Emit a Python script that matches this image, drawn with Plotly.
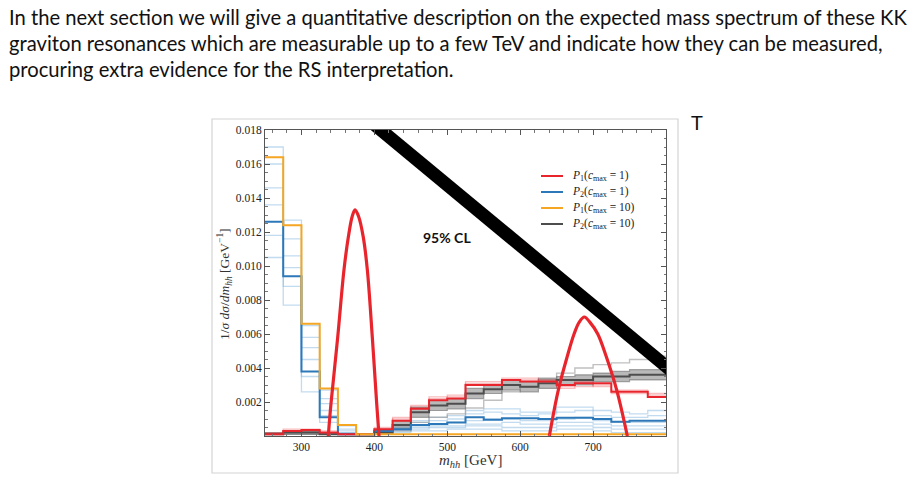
import plotly.graph_objects as go

# ---------------- data ----------------
bin_edges = [250, 275, 300, 325, 350, 375, 400, 425, 450, 475, 500, 525,
             550, 575, 600, 625, 650, 675, 700, 725, 750, 775, 800]

p1_c1 = [0.0001, 0.0003, 0.00035, 0.0002, 0.0001, 0.0001, 0.0004, 0.0009, 0.0016, 0.0021, 0.0022,
         0.0030, 0.0030, 0.0033, 0.0032, 0.0032, 0.0030, 0.0031, 0.0031, 0.0026, 0.0026, 0.0023]
p2_c1 = [0.0126, 0.0094, 0.0038, 0.0011, 0.0001, 0.0001, 0.0003, 0.0004, 0.00065, 0.0007, 0.0008,
         0.0011, 0.00095, 0.00105, 0.00104, 0.0010, 0.00107, 0.00107, 0.0010, 0.00084, 0.0009, 0.0009]
p1_c10 = [0.0164, 0.0124, 0.0066, 0.0028, 0.00065, 0.0001, 0.0001, 0.0001, 0.0001, 0.0001, 0.0001,
          0.0001, 0.0001, 0.0001, 0.0001, 0.0001, 0.0001, 0.0001, 0.0001, 0.0001, 0.0001, 0.0001]
p2_c10 = [0.0001, 0.0002, 0.0002, 0.0001, 0.0001, 0.0001, 0.0002, 0.00065, 0.0014, 0.0018, 0.0019,
          0.0025, 0.00275, 0.0030, 0.0029, 0.0031, 0.0033, 0.0033, 0.0035, 0.0035, 0.0036, 0.0036]

# light variation curves (uncertainty bands)
p2_c1_vars = [
    [0.0170, 0.0127, 0.0065, 0.0027, 0.0006, 0.0001, 0.0004, 0.0006, 0.0009, 0.0011, 0.0012,
     0.0015, 0.0016, 0.0016, 0.0014, 0.0014, 0.0017, 0.0017, 0.0015, 0.0014, 0.0013, 0.0015],
    [0.0160, 0.0116, 0.0058, 0.0022, 0.0004, 0.0001, 0.0003, 0.0005, 0.0008, 0.0009, 0.0010,
     0.0013, 0.0014, 0.0013, 0.0012, 0.0013, 0.0014, 0.0015, 0.0012, 0.0011, 0.0011, 0.0012],
    [0.0146, 0.0106, 0.0052, 0.0019, 0.0003, 0.0001, 0.0002, 0.0004, 0.0006, 0.0007, 0.0008,
     0.0009, 0.0010, 0.0010, 0.0009, 0.0009, 0.0010, 0.0011, 0.0009, 0.0008, 0.0008, 0.0008],
    [0.0136, 0.0099, 0.0045, 0.0015, 0.0002, 0.0001, 0.0002, 0.0003, 0.0005, 0.0006, 0.0006,
     0.0007, 0.0007, 0.0008, 0.0007, 0.0007, 0.0008, 0.0008, 0.0007, 0.0006, 0.0006, 0.0006],
    [0.0118, 0.0088, 0.0035, 0.0012, 0.0002, 0.0001, 0.0002, 0.0003, 0.0004, 0.0005, 0.0005,
     0.0006, 0.0006, 0.0005, 0.0005, 0.0005, 0.0006, 0.0006, 0.0005, 0.0004, 0.0004, 0.0004],
    [0.0105, 0.0077, 0.0026, 0.0008, 0.0001, 0.0001, 0.0001, 0.0002, 0.0003, 0.0003, 0.0004,
     0.0004, 0.0004, 0.0003, 0.0003, 0.0003, 0.0004, 0.0004, 0.0003, 0.0002, 0.0002, 0.0002],
]
# dark band around P2(cmax=10): upper and lower edges
p2_c10_hi = [0.0002, 0.0003, 0.0003, 0.0002, 0.0001, 0.0001, 0.0003, 0.0009, 0.0017, 0.0021, 0.0022,
             0.0028, 0.0030, 0.0033, 0.0032, 0.0034, 0.0035, 0.0036, 0.0037, 0.0038, 0.0039, 0.0039]
p2_c10_lo = [0.0001, 0.0001, 0.0001, 0.0001, 0.0001, 0.0001, 0.0001, 0.0004, 0.0011, 0.0015, 0.0016,
             0.0022, 0.0025, 0.0027, 0.0026, 0.0028, 0.0030, 0.0030, 0.0032, 0.0032, 0.0033, 0.0033]
# light outlier variation of P2(cmax=10)
p2_c10_light = [0.0001, 0.0001, 0.0001, 0.0001, 0.0001, 0.0001, 0.0001, 0.0003, 0.0008, 0.0011, 0.0013,
                0.00165, 0.0021, 0.0026, 0.0029, 0.0033, 0.0037, 0.0040, 0.0042, 0.0043, 0.0045, 0.0047]
p1_c1_vars = [
    [0.0002, 0.0004, 0.0004, 0.0003, 0.0001, 0.0001, 0.0005, 0.0011, 0.0018, 0.0023, 0.0024,
     0.0032, 0.0032, 0.0034, 0.0034, 0.0033, 0.0028, 0.0032, 0.0029, 0.0027, 0.0027, 0.0025],
    [0.0001, 0.0003, 0.0003, 0.0002, 0.0001, 0.0001, 0.0004, 0.0010, 0.0017, 0.0022, 0.0023,
     0.0031, 0.0031, 0.0033, 0.0033, 0.0031, 0.0029, 0.0029, 0.0030, 0.0025, 0.0025, 0.0024],
]

# red resonance peaks (mass, value)
peak1_m = [336.8, 340.5, 349.7, 358.4, 364.3, 369.5, 373.5, 378.5, 384.8, 390.3, 397.2, 403.2, 406.4]
peak1_v = [0.0, 0.0019, 0.0058, 0.0098, 0.0117, 0.0129, 0.0133, 0.0129, 0.0117, 0.0098, 0.0058, 0.0019, 0.0]
peak2_m = [640.0, 652.3, 664.7, 673.9, 681.0, 688.0, 695.5, 706.4, 717.8, 732.4, 747.0]
peak2_v = [0.0, 0.0027, 0.0047, 0.0060, 0.0067, 0.0070, 0.0067, 0.0060, 0.0047, 0.0027, 0.0]

# 95% CL line (mass, value)
cl_m = [380, 810]
cl_v = [0.01903, 0.00375]

x_ticks = [300, 400, 500, 600, 700]
y_ticks = [0.002, 0.004, 0.006, 0.008, 0.010, 0.012, 0.014, 0.016, 0.018]
y_tick_text = ["0.002", "0.004", "0.006", "0.008", "0.010", "0.012", "0.014", "0.016", "0.018"]

legend_names = ["<i>P</i><sub>1</sub>(<i>c</i><sub>max</sub> = 1)",
                "<i>P</i><sub>2</sub>(<i>c</i><sub>max</sub> = 1)",
                "<i>P</i><sub>1</sub>(<i>c</i><sub>max</sub> = 10)",
                "<i>P</i><sub>2</sub>(<i>c</i><sub>max</sub> = 10)"]

paragraph = ["In the next section we will give a quantitative description on the expected mass spectrum of these KK",
             "graviton resonances which are measurable up to a few TeV and indicate how they can be measured,",
             "procuring extra evidence for the RS interpretation."]

# ---------------- colours ----------------
RED = "#e8252c"
BLUE = "#2c78b8"
ORANGE = "#f5a623"
GRAY = "#4d4d4d"

# plot-area pixel geometry
L, R, T, B = 265, 666, 130, 436
W, H = 914, 481


def px_x(p):
    return (p - L) / (R - L)


def px_y(p):
    return (B - p) / (B - T)


def step(vals):
    return vals + [vals[-1]]


fig = go.Figure()

for v in p2_c1_vars:
    fig.add_trace(go.Scatter(x=bin_edges, y=step(v), mode="lines", line_shape="hv",
                             line=dict(color="rgba(120,175,220,0.45)", width=1.3),
                             showlegend=False, hoverinfo="skip"))

fig.add_trace(go.Scatter(x=bin_edges, y=step(p2_c10_light), mode="lines", line_shape="hv",
                         line=dict(color="rgba(150,150,150,0.6)", width=1.4),
                         showlegend=False, hoverinfo="skip"))
fig.add_trace(go.Scatter(x=bin_edges, y=step(p2_c10_lo), mode="lines", line_shape="hv",
                         line=dict(color="rgba(110,110,110,0.6)", width=1.2),
                         showlegend=False, hoverinfo="skip"))
fig.add_trace(go.Scatter(x=bin_edges, y=step(p2_c10_hi), mode="lines", line_shape="hv",
                         line=dict(color="rgba(110,110,110,0.6)", width=1.2),
                         fill="tonexty", fillcolor="rgba(100,100,100,0.45)",
                         showlegend=False, hoverinfo="skip"))

for v in p1_c1_vars:
    fig.add_trace(go.Scatter(x=bin_edges, y=step(v), mode="lines", line_shape="hv",
                             line=dict(color="rgba(232,37,44,0.3)", width=1.3),
                             showlegend=False, hoverinfo="skip"))

for vals, col in [(p2_c10, GRAY), (p2_c1, BLUE), (p1_c1, RED), (p1_c10, ORANGE)]:
    fig.add_trace(go.Scatter(x=bin_edges, y=step(vals), mode="lines", line_shape="hv",
                             line=dict(color=col, width=2), showlegend=False, hoverinfo="skip"))

for m, v in [(peak1_m, peak1_v), (peak2_m, peak2_v)]:
    fig.add_trace(go.Scatter(x=m, y=v, mode="lines", line_shape="spline",
                             line=dict(color=RED, width=3.2), showlegend=False, hoverinfo="skip"))

fig.add_trace(go.Scatter(x=cl_m, y=cl_v, mode="lines", line=dict(color="black", width=13),
                         showlegend=False, hoverinfo="skip"))

shapes = []
annotations = []

# image border
shapes.append(dict(type="rect", xref="paper", yref="paper",
                   x0=px_x(212), x1=px_x(678), y0=px_y(473), y1=px_y(119),
                   line=dict(color="#d4d4d4", width=1.2), fillcolor="rgba(0,0,0,0)", layer="below"))

SERIF = "Liberation Serif, DejaVu Serif, serif"
SANS = "Lato, Roboto, sans-serif"

# legend
leg_y = [176, 192, 208, 224]
for name, col, yy in zip(legend_names, [RED, BLUE, ORANGE, GRAY], leg_y):
    shapes.append(dict(type="line", xref="paper", yref="paper",
                       x0=px_x(541), x1=px_x(563), y0=px_y(yy), y1=px_y(yy),
                       line=dict(color=col, width=2)))
    annotations.append(dict(xref="paper", yref="paper", x=px_x(570), y=px_y(yy),
                            xanchor="left", yanchor="middle", showarrow=False, text=name,
                            font=dict(family=SERIF, size=11.5, color="#222")))

annotations.append(dict(xref="paper", yref="paper", x=px_x(447), y=px_y(237), showarrow=False,
                        text="<b>95% CL</b>", xanchor="center", yanchor="middle",
                        font=dict(family=SANS, size=14, color="#111")))

annotations.append(dict(xref="paper", yref="paper", x=px_x(224), y=px_y(284), showarrow=False,
                        textangle=-90, xanchor="center", yanchor="middle",
                        text="1/<i>σ</i> <i>dσ</i>/<i>dm</i><sub><i>hh</i></sub> [GeV<sup>−1</sup>]",
                        font=dict(family=SERIF, size=13.5, color="#333")))
annotations.append(dict(xref="paper", yref="paper", x=px_x(470), y=px_y(461), showarrow=False,
                        xanchor="center", yanchor="middle",
                        text="<i>m</i><sub><i>hh</i></sub> [GeV]",
                        font=dict(family=SERIF, size=15, color="#333")))

for i, line in enumerate(paragraph):
    annotations.append(dict(xref="paper", yref="paper", x=px_x(7), y=px_y(17 + 26 * i), showarrow=False,
                            xanchor="left", yanchor="middle", text=line,
                            font=dict(family=SANS, size=20.2, color="#111")))
annotations.append(dict(xref="paper", yref="paper", x=px_x(697), y=px_y(122), showarrow=False,
                        xanchor="center", yanchor="middle", text="T",
                        font=dict(family=SANS, size=20, color="#111")))

tick_font = dict(family=SERIF, size=11.5, color="#222")
fig.update_layout(
    width=W, height=H,
    margin=dict(l=L, r=W - R, t=T, b=H - B, pad=0),
    paper_bgcolor="white", plot_bgcolor="white",
    shapes=shapes, annotations=annotations,
    xaxis=dict(range=[250, 800], tickvals=x_ticks, ticktext=[str(t) for t in x_ticks],
               ticks="inside", ticklen=5, tickwidth=1, tickcolor="#555",
               showline=True, linecolor="#555", linewidth=1, mirror="allticks",
               showgrid=False, zeroline=False, tickfont=tick_font,
               minor=dict(dtick=20, tick0=0, ticks="inside", ticklen=2.5, tickcolor="#777", showgrid=False)),
    yaxis=dict(range=[0, 0.018], tickvals=y_ticks, ticktext=y_tick_text,
               ticks="inside", ticklen=5, tickwidth=1, tickcolor="#555",
               showline=True, linecolor="#555", linewidth=1, mirror="allticks",
               showgrid=False, zeroline=False, tickfont=tick_font,
               minor=dict(dtick=0.0005, tick0=0, ticks="inside", ticklen=2.5, tickcolor="#777", showgrid=False)),
)

fig.write_html("out.html")
